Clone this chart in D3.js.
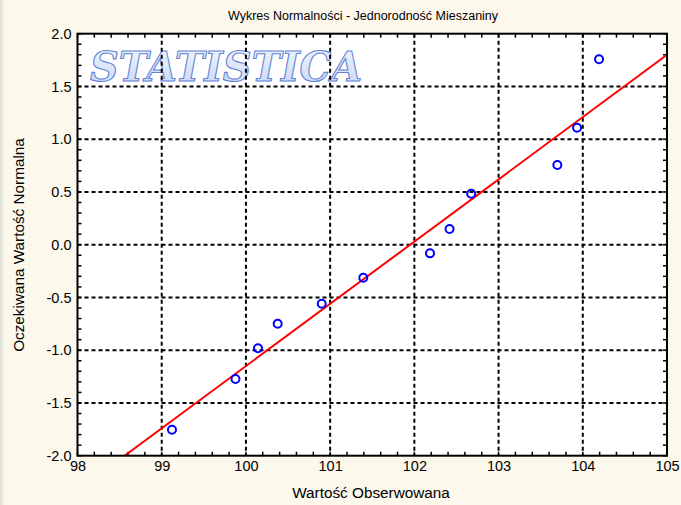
<!DOCTYPE html>
<html>
<head>
<meta charset="utf-8">
<script src="https://cdn.jsdelivr.net/npm/d3@7"></script>
<style>
  html, body { margin: 0; padding: 0; background: #fdf8ec; }
  svg { display: block; }
  text { font-family: "Liberation Sans", Arial, sans-serif; }
</style>
</head>
<body>
<svg id="chart" width="681" height="505"></svg>
<script>
// Observed values and their expected normal scores
const observed = [99.122, 99.876, 100.143, 100.377, 100.90, 101.394, 102.186, 102.418, 102.675, 103.698, 103.932, 104.193];
const expected = [-1.754, -1.273, -0.982, -0.749, -0.560, -0.313, -0.082, 0.149, 0.483, 0.755, 1.109, 1.757];
// Reference normal line: expected = (x - mean) / sd
const fitMean = 101.95;
const fitSd = 1.695;
const xTicks = [98, 99, 100, 101, 102, 103, 104, 105];
const yTicks = [-2.0, -1.5, -1.0, -0.5, 0.0, 0.5, 1.0, 1.5, 2.0];
const titleText = "Wykres Normalności - Jednorodność Mieszaniny";
const xTitle = "Wartość Obserwowana";
const yTitle = "Oczekiwana Wartość Normalna";

const svg = d3.select("#chart");
const W = 681, H = 505;
const m = { left: 77.5, right: 667, top: 33.7, bottom: 455.7 };

const x = d3.scaleLinear().domain([98, 105]).range([m.left, m.right]);
const y = d3.scaleLinear().domain([-2, 2]).range([m.bottom, m.top]);

const defs = svg.append("defs");
const edge = defs.append("linearGradient").attr("id", "edge").attr("x1", 0).attr("x2", 1);
edge.append("stop").attr("offset", 0).attr("stop-color", "#d9ddd0");
edge.append("stop").attr("offset", 1).attr("stop-color", "#fdf8ec").attr("stop-opacity", 0);
const logoFill = defs.append("linearGradient").attr("id", "logoFill").attr("x1", 0).attr("y1", 0).attr("x2", 0).attr("y2", 1);
logoFill.append("stop").attr("offset", 0).attr("stop-color", "#f4f8ff");
logoFill.append("stop").attr("offset", 1).attr("stop-color", "#c2d4f2");
defs.append("clipPath").attr("id", "plotClip").append("rect")
  .attr("x", m.left).attr("y", m.top).attr("width", m.right - m.left).attr("height", m.bottom - m.top);

// page background with a soft left edge
svg.append("rect").attr("width", W).attr("height", H).attr("fill", "#fdf8ec");
svg.append("rect").attr("width", 7).attr("height", H).attr("fill", "url(#edge)");

// plot area
svg.append("rect").attr("x", m.left).attr("y", m.top)
  .attr("width", m.right - m.left).attr("height", m.bottom - m.top).attr("fill", "#ffffff");

// watermark logo
svg.append("text")
  .attr("x", 90).attr("y", 81)
  .attr("textLength", 272).attr("lengthAdjust", "spacingAndGlyphs")
  .style("font-family", "'DejaVu Serif', 'Liberation Serif', serif")
  .style("font-style", "italic").style("font-weight", "bold")
  .style("font-size", "41px")
  .attr("fill", "url(#logoFill)").attr("stroke", "#6282d6").attr("stroke-width", 1.1)
  .text("STATISTICA");

// dashed grid
const grid = svg.append("g").attr("stroke", "#000").attr("stroke-width", 2).attr("stroke-dasharray", "4,3");
grid.selectAll("line.vx").data(xTicks.slice(1, -1)).join("line")
  .attr("x1", d => x(d)).attr("x2", d => x(d)).attr("y1", m.top).attr("y2", m.bottom);
grid.selectAll("line.hy").data(yTicks.slice(1, -1)).join("line")
  .attr("y1", d => y(d)).attr("y2", d => y(d)).attr("x1", m.left).attr("x2", m.right);

// inside minor ticks on all four sides
const xMinor = d3.range(98, 105.001, 0.2);
const yMinor = d3.range(-2, 2.001, 0.1);
const tk = svg.append("g").attr("stroke", "#000").attr("stroke-width", 1.5);
const tl = 4;
xMinor.forEach(v => {
  tk.append("line").attr("x1", x(v)).attr("x2", x(v)).attr("y1", m.bottom).attr("y2", m.bottom - tl);
  tk.append("line").attr("x1", x(v)).attr("x2", x(v)).attr("y1", m.top).attr("y2", m.top + tl);
});
yMinor.forEach(v => {
  tk.append("line").attr("y1", y(v)).attr("y2", y(v)).attr("x1", m.left).attr("x2", m.left + tl);
  tk.append("line").attr("y1", y(v)).attr("y2", y(v)).attr("x1", m.right).attr("x2", m.right - tl);
});

// reference line
const plot = svg.append("g").attr("clip-path", "url(#plotClip)");
const lineX = [98, 105];
plot.append("path")
  .datum(lineX.map(v => [v, (v - fitMean) / fitSd]))
  .attr("d", d3.line().x(d => x(d[0])).y(d => y(d[1])))
  .attr("fill", "none").attr("stroke", "#ff0000").attr("stroke-width", 2);

// observations
svg.append("g").selectAll("circle").data(observed).join("circle")
  .attr("cx", d => x(d)).attr("cy", (d, i) => y(expected[i]))
  .attr("r", 4).attr("fill", "none").attr("stroke", "#0000ff").attr("stroke-width", 2);

// frame
svg.append("rect").attr("x", m.left).attr("y", m.top)
  .attr("width", m.right - m.left).attr("height", m.bottom - m.top)
  .attr("fill", "none").attr("stroke", "#000").attr("stroke-width", 2);

// axes labels
const xAxis = d3.axisBottom(x).tickValues(xTicks).tickFormat(d3.format("d")).tickSize(0).tickPadding(5);
const gx = svg.append("g").attr("transform", `translate(0,${m.bottom})`).call(xAxis);
gx.select(".domain").remove();
gx.selectAll("text").style("font-size", "14.5px").attr("fill", "#000").style("font-family", "'Liberation Sans', Arial, sans-serif");

const yAxis = d3.axisLeft(y).tickValues(yTicks).tickFormat(d3.format(".1f")).tickSize(0).tickPadding(6);
const gy = svg.append("g").attr("transform", `translate(${m.left},0)`).call(yAxis);
gy.select(".domain").remove();
gy.selectAll("text").style("font-size", "14.5px").attr("fill", "#000").style("font-family", "'Liberation Sans', Arial, sans-serif")
  .text(d => d3.format(".1f")(d).replace("−", "-"));

// titles
svg.append("text").attr("x", 363).attr("y", 20).attr("text-anchor", "middle")
  .style("font-size", "12.5px").text(titleText);
svg.append("text").attr("x", 371).attr("y", 498).attr("text-anchor", "middle")
  .style("font-size", "15.3px").text(xTitle);
svg.append("text").attr("transform", `translate(24,245) rotate(-90)`).attr("text-anchor", "middle")
  .style("font-size", "15.3px").text(yTitle);
</script>
</body>
</html>
